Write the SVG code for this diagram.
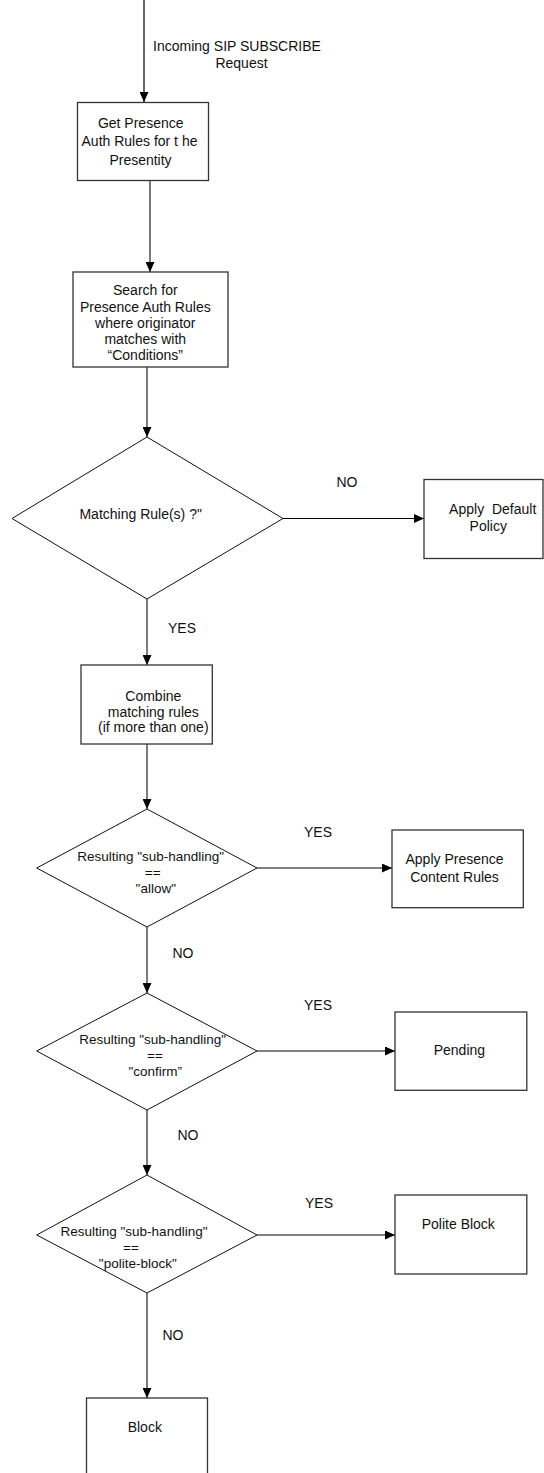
<svg xmlns="http://www.w3.org/2000/svg" width="544" height="1473" viewBox="0 0 544 1473">
<style>
text{font-family:"Liberation Sans",Arial,sans-serif;font-size:14px;fill:#111;text-anchor:middle}
.d{font-size:13.5px}
.box{fill:#fff;stroke:#333;stroke-width:1.3}
.dia{fill:#fff;stroke:#111;stroke-width:1}
.g{stroke:#7a7a7a;stroke-width:2;fill:none}
.k{stroke:#000;stroke-width:1.2;fill:none}
</style>
<defs>
<marker id="ah" markerUnits="userSpaceOnUse" markerWidth="10" markerHeight="9" refX="10" refY="4.5" orient="auto">
<path d="M0,0 L10,4.5 L0,9 z" fill="#000"/>
</marker>
</defs>
<rect width="544" height="1473" fill="#fff"/>
<g id="connectors">
<line class="k" x1="144" y1="0" x2="144" y2="102" marker-end="url(#ah)"/>
<line class="g" x1="150" y1="181" x2="150" y2="272" marker-end="url(#ah)"/>
<line class="g" x1="147" y1="367" x2="147" y2="437" marker-end="url(#ah)"/>
<line class="k" x1="283" y1="518.5" x2="424" y2="518.5" marker-end="url(#ah)"/>
<line class="g" x1="147" y1="599" x2="147" y2="665" marker-end="url(#ah)"/>
<line class="g" x1="147" y1="744" x2="147" y2="809" marker-end="url(#ah)"/>
<line class="k" x1="257" y1="868" x2="392" y2="868" marker-end="url(#ah)"/>
<line class="g" x1="147" y1="927" x2="147" y2="993" marker-end="url(#ah)"/>
<line class="k" x1="257" y1="1051" x2="395" y2="1051" marker-end="url(#ah)"/>
<line class="g" x1="147" y1="1110" x2="147" y2="1175" marker-end="url(#ah)"/>
<line class="k" x1="257" y1="1235" x2="395" y2="1235" marker-end="url(#ah)"/>
<line class="g" x1="147" y1="1293" x2="147" y2="1398" marker-end="url(#ah)"/>
<text x="237" y="51">Incoming SIP SUBSCRIBE</text>
<text x="241.5" y="68">Request</text>
<text x="347" y="487">NO</text>
<text x="182" y="633">YES</text>
<text x="318" y="837">YES</text>
<text x="183" y="958">NO</text>
<text x="318" y="1010">YES</text>
<text x="188" y="1140">NO</text>
<text x="319" y="1208">YES</text>
<text x="173" y="1340">NO</text>
</g>
<g id="get-rules">
<rect class="box" x="77.5" y="102.5" width="131" height="78"/>
<text x="140.7" y="128">Get Presence</text>
<text x="139.5" y="146">Auth Rules for t he</text>
<text x="140.5" y="164.5">Presentity</text>
</g>
<g id="search-rules">
<rect class="box" x="73" y="272" width="155" height="95"/>
<text x="145.3" y="295">Search for</text>
<text x="145.3" y="311.5">Presence Auth Rules</text>
<text x="145.3" y="327.5">where originator</text>
<text x="145.3" y="344">matches with</text>
<text x="145.3" y="360">“Conditions”</text>
</g>
<g id="matching">
<polygon class="dia" points="147,437 283,518.5 147,599 12,518.5"/>
<text x="140.7" y="519">Matching Rule(s) ?"</text>
</g>
<g id="default-policy">
<rect class="box" x="424" y="479.5" width="119" height="79"/>
<text x="492.7" y="514" xml:space="preserve">Apply  Default</text>
<text x="488.3" y="531">Policy</text>
</g>
<g id="combine">
<rect class="box" x="81" y="665" width="131.3" height="79"/>
<text x="153.3" y="701">Combine</text>
<text x="153.3" y="716.5">matching rules</text>
<text x="153.3" y="732">(if more than one)</text>
</g>
<g id="allow">
<polygon class="dia" points="147,809 257,868 147,927 36.7,868"/>
<text class="d" x="150.7" y="861">Resulting "sub-handling"</text>
<text class="d" x="152.7" y="877">==</text>
<text class="d" x="155.8" y="893">"allow"</text>
</g>
<g id="content-rules">
<rect class="box" x="392" y="830" width="131.3" height="77.7"/>
<text x="454.5" y="864">Apply Presence</text>
<text x="454.5" y="882">Content Rules</text>
</g>
<g id="confirm">
<polygon class="dia" points="147,993 257,1051 147,1110 36.7,1051"/>
<text class="d" x="152.7" y="1044">Resulting "sub-handling"</text>
<text class="d" x="155" y="1060">==</text>
<text class="d" x="155.2" y="1076">"confirm”</text>
</g>
<g id="pending">
<rect class="box" x="395" y="1012" width="131.8" height="78.3"/>
<text x="459.4" y="1055">Pending</text>
</g>
<g id="polite">
<polygon class="dia" points="147,1175 257,1235 147,1293 36.7,1235"/>
<text class="d" x="134" y="1236">Resulting "sub-handling"</text>
<text class="d" x="131" y="1252">==</text>
<text class="d" x="137.8" y="1268">"polite-block"</text>
</g>
<g id="polite-block">
<rect class="box" x="395" y="1195" width="131.8" height="79"/>
<text x="458.3" y="1229">Polite Block</text>
</g>
<g id="block">
<rect class="box" x="86.5" y="1398" width="121" height="90"/>
<text x="144.8" y="1432">Block</text>
</g>
</svg>
